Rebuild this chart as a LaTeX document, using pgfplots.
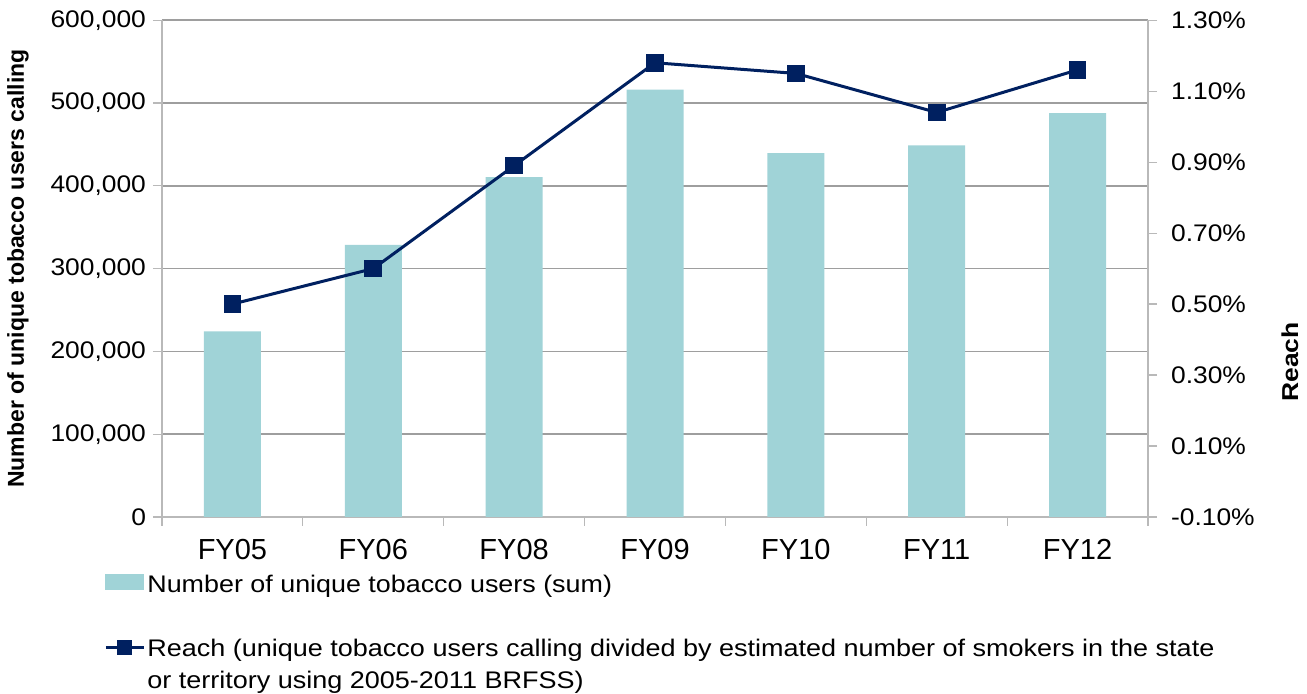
\documentclass[border=0pt]{standalone}
\usepackage{fontspec}
\setmainfont{Liberation Sans}
\usepackage{graphicx}
\usepackage{pgfplots}
\pgfplotsset{compat=1.18}

\definecolor{barteal}{RGB}{160,211,215}
\definecolor{reachnavy}{RGB}{0,32,96}
\definecolor{gridgray}{RGB}{158,158,158}
\definecolor{axisgray}{RGB}{185,185,185}

% fiscal-year index, unique callers, reach (%)
\pgfplotstableread{
idx users reach
0 224300 0.50
1 328500 0.60
2 410600 0.89
3 516200 1.18
4 439600 1.15
5 448900 1.04
6 487900 1.16
}\datatable

\newcommand\tickfont{\fontsize{12}{14.4}\selectfont}
\newcommand\catfont{\fontsize{14.5}{17}\selectfont}
\newcommand\labelfont{\fontsize{11.5}{14}\selectfont\bfseries}
\newcommand\legendfont{\fontsize{12}{16}\selectfont}

\pgfplotsset{
  chartbase/.style={
    scale only axis, width=493pt, height=248.4pt,
    xmin=-0.5, xmax=6.5,
    tick align=outside,
    axis line style={draw=axisgray, line width=0.6pt},
    tick style={draw=axisgray, line width=0.6pt},
    major tick length=4.5pt,
    ticklabel style={font=\tickfont},
  },
  bar legend/.style={legend image code/.code={\fill[barteal] (0pt,-3.75pt) rectangle (19pt,3.75pt);}},
  reach legend/.style={legend image code/.code={\draw[mark repeat=2,mark phase=2,##1,mark size=3pt] plot coordinates {(0pt,0pt) (9.5pt,0pt) (19pt,0pt)};}},
}

\begin{document}
\begin{tikzpicture}
\begin{axis}[chartbase,
  axis x line*=bottom, axis y line*=left,
  ymin=0, ymax=600000, ytick={0,100000,...,600000},
  scaled y ticks=false,
  ymajorgrids, grid style={draw=gridgray, line width=0.75pt},
  xtick={-0.5,0.5,1.5,2.5,3.5,4.5,5.5},
  xticklabels={FY05,FY06,FY08,FY09,FY10,FY11,FY12},
  xticklabel style={font=\catfont, xshift=35.21pt, yshift=-3pt},
  extra x ticks={6.5}, extra x tick labels={},
  yticklabel={\scalebox{1.1}[1]{\pgfmathprintnumber[assume math mode=true,fixed,1000 sep={,}]{\tick}}},
  ylabel={Number of unique tobacco users calling},
  ylabel style={at={(axis description cs:-0.146,0.5)}, anchor=center, font=\labelfont},
]
\addplot[ybar, bar width=28.5pt, fill=barteal, draw=none] table[x=idx,y=users]{\datatable};
\end{axis}

\begin{axis}[chartbase,
  axis x line=none, axis y line*=right,
  ymin=-0.1, ymax=1.3, ytick={-0.1,0.1,0.3,0.5,0.7,0.9,1.1,1.3},
  yticklabel={\scalebox{1.1}[1]{\pgfmathprintnumber[assume math mode=true,fixed,fixed zerofill,precision=2]{\tick}\%}},
  yticklabel style={xshift=3.5pt},
  ylabel={\scalebox{1.15}[1]{Reach}},
  ylabel style={at={(axis description cs:1.144,0.312)}, anchor=center, font=\labelfont},
  legend cell align=left,
  legend style={at={(axis description cs:0,0)}, anchor=north west,
    xshift=-29pt, yshift=-26.15pt, draw=none, fill=none, inner sep=0pt,
    row sep=19.65pt, column sep=1pt, nodes={inner sep=0pt}, font=\legendfont},
]
\addlegendimage{bar legend}
\addlegendentry{\scalebox{1.12}[1]{\begin{tabular}[t]{@{}l@{}}Number of unique tobacco users (sum)\end{tabular}}}
\addplot[reachnavy, line width=1.5pt, mark=square*, mark size=3.65pt,
  mark options={solid, fill=reachnavy}, reach legend]
  table[x=idx,y=reach]{\datatable};
\addlegendentry{\scalebox{1.125}[1]{\begin{tabular}[t]{@{}l@{}}Reach (unique tobacco users calling divided by estimated number of smokers in the state\\or territory using 2005-2011 BRFSS)\end{tabular}}}
\end{axis}

\pgfresetboundingbox
\path[use as bounding box] (-81pt,-88.5pt) rectangle (572.5pt,258.5pt);
\end{tikzpicture}
\end{document}
